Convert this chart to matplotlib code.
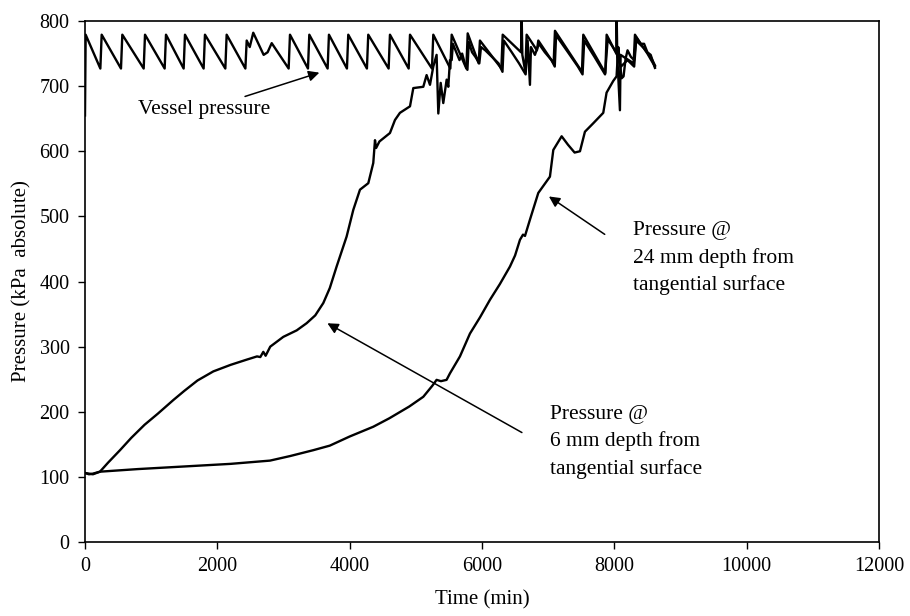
import matplotlib
matplotlib.use("Agg")
import matplotlib.pyplot as plt

# Vessel pressure: fill / bleed sawtooth (time in min, pressure in kPa absolute)
vessel_t = [0, 10, 232, 252, 544, 564, 887, 907, 1204, 1224, 1491, 1511, 1793, 1813,
            2121, 2141, 2424, 2444, 2490, 2543, 2700, 2760, 2822, 3078, 3098, 3370, 3390,
            3667, 3687, 3959, 3979, 4261, 4281, 4589, 4609, 4892, 4912, 5244, 5264,
            5522, 5542, 5764, 5784, 5950, 5969, 6293, 6313, 6590, 6600, 6610, 6655,
            6675, 6831, 6851, 7083, 7103, 7511, 7531, 7864, 7884, 8030, 8035, 8045,
            8085, 8095, 8292, 8312, 8400, 8500, 8614]
vessel_p = [655, 779, 727, 779, 727, 779, 727, 779, 727, 779, 727, 779, 727, 779,
            727, 779, 727, 770, 760, 782, 748, 752, 766, 727, 779, 727, 779,
            727, 779, 727, 779, 727, 779, 727, 779, 727, 779, 727, 779,
            727, 779, 727, 781, 735, 770, 727, 779, 752, 805, 748, 722,
            779, 755, 770, 735, 785, 722, 779, 720, 779, 750, 812, 745,
            663, 748, 735, 779, 765, 750, 730]

# Pressure at 6 mm depth from the tangential surface
depth6_t = [0, 60, 120, 226, 350, 529, 700, 900, 1100, 1335, 1500, 1700, 1940, 2200,
            2443, 2600, 2650, 2695, 2730, 2800, 2997, 3200, 3350, 3480, 3602, 3700,
            3803, 3954, 4055, 4156, 4282, 4357, 4383, 4400, 4450, 4609, 4685, 4760,
            4912, 4962, 5113, 5163, 5214, 5264, 5314, 5340, 5376, 5415, 5466, 5491,
            5516, 5542, 5560, 5620, 5660, 5700, 5740, 5780, 5800, 5850, 5900, 5960,
            5985, 6050, 6150, 6250, 6310, 6330, 6450, 6560, 6660, 6690, 6725, 6740,
            6800, 6860, 6950, 7050, 7100, 7120, 7300, 7450, 7520, 7545, 7700, 7860,
            7900, 8030, 8050, 8100, 8200, 8300, 8330, 8450, 8550, 8614]
depth6_p = [106, 105, 104, 108, 122, 141, 160, 180, 197, 218, 232, 248, 262, 272,
            280, 285, 284, 292, 286, 300, 315, 325, 336, 348, 367, 390,
            423, 469, 510, 541, 551, 582, 617, 605, 615, 628, 648, 659,
            669, 697, 699, 717, 702, 730, 748, 658, 705, 674, 710, 699,
            740, 740, 765, 750, 740, 750, 735, 725, 768, 752, 745, 735,
            760, 755, 745, 735, 722, 770, 752, 735, 718, 770, 702, 760,
            748, 765, 752, 740, 730, 778, 752, 730, 718, 770, 745, 718,
            772, 752, 745, 730, 740, 730, 770, 758, 745, 732]

# Pressure at 24 mm depth from the tangential surface
depth24_t = [0, 60, 120, 226, 800, 1500, 2200, 2796, 3100, 3450, 3700, 4000, 4357,
             4600, 4900, 5113, 5250, 5314, 5380, 5465, 5516, 5667, 5818, 5970, 6121,
             6270, 6423, 6500, 6574, 6620, 6650, 6725, 6851, 7027, 7078, 7204, 7300,
             7400, 7481, 7556, 7682, 7833, 7883, 7984, 8034, 8060, 8080, 8110, 8140,
             8170, 8200, 8250, 8300, 8330, 8400, 8450, 8500, 8550, 8614]
depth24_p = [106, 104, 105, 108, 112, 116, 120, 125, 132, 141, 148, 162, 177,
             190, 208, 223, 240, 249, 247, 249, 259, 285, 320, 345, 372,
             396, 423, 440, 464, 472, 470, 495, 536, 561, 602, 623, 610,
             598, 600, 630, 643, 659, 690, 708, 715, 760, 740, 712, 715,
             742, 755, 745, 740, 775, 765, 765, 752, 748, 728]

x_ticks = [0, 2000, 4000, 6000, 8000, 10000, 12000]
y_ticks = [0, 100, 200, 300, 400, 500, 600, 700, 800]

plt.rcParams["font.family"] = ["Liberation Serif", "DejaVu Serif"]

fig = plt.figure(figsize=(9.1, 6.16), dpi=100)
ax = fig.add_axes([0.0934, 0.1201, 0.8725, 0.8458])

ax.plot(vessel_t, vessel_p, color="black", lw=1.7)
ax.plot(depth6_t, depth6_p, color="black", lw=1.7)
ax.plot(depth24_t, depth24_p, color="black", lw=1.7)

ax.set_xlim(0, 12000)
ax.set_ylim(0, 800)
ax.set_xticks(x_ticks)
ax.set_yticks(y_ticks)
ax.tick_params(direction="out", length=5, width=1, labelsize=14.5, pad=6)
for spine in ax.spines.values():
    spine.set_linewidth(1.2)

ax.set_xlabel("Time (min)", fontsize=15, labelpad=10)
ax.set_ylabel("Pressure (kPa  absolute)", fontsize=15, labelpad=6)

arrow = dict(arrowstyle="-|>", color="black", lw=1.1, mutation_scale=16)
text_kw = dict(fontsize=15.5, va="center", ha="left", linespacing=1.5)

ax.annotate("Vessel pressure", xy=(3582, 722), xytext=(800, 664),
            arrowprops=arrow, **text_kw)
ax.annotate("", xy=(6977, 533), xytext=(7890, 470), arrowprops=arrow)
ax.text(8280, 436, "Pressure @\n24 mm depth from\ntangential surface", **text_kw)
ax.annotate("", xy=(3627, 338), xytext=(6640, 166), arrowprops=arrow)
ax.text(7030, 154, "Pressure @\n6 mm depth from\ntangential surface", **text_kw)

fig.savefig("out.png", dpi=100)
